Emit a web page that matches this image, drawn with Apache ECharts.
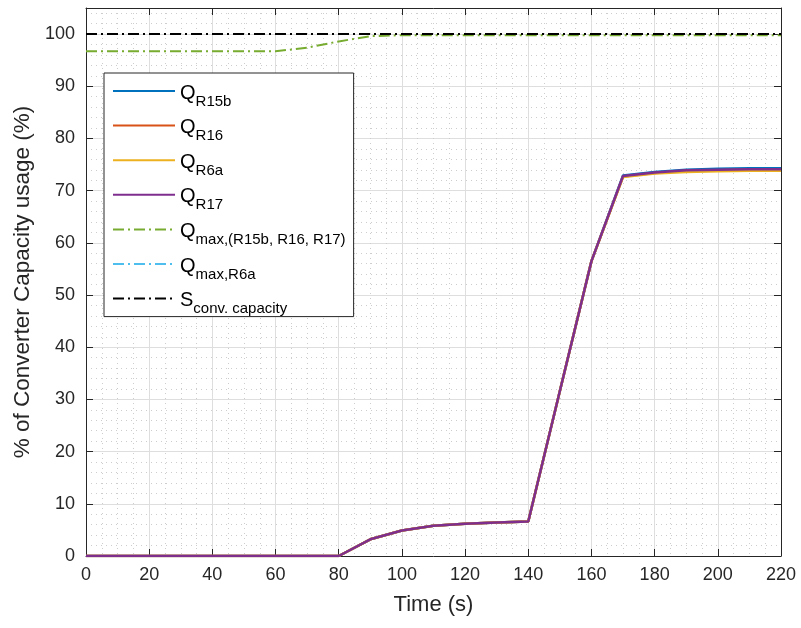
<!DOCTYPE html>
<html>
<head>
<meta charset="utf-8">
<script src="https://cdn.jsdelivr.net/npm/echarts@6/dist/echarts.min.js"></script>
<style>
  html, body { margin: 0; padding: 0; background: #fff; }
  #chart { width: 801px; height: 628px; }
</style>
</head>
<body>
<div id="chart"></div>
<script>
// Time axis samples (s)
const time = [0, 10, 20, 30, 40, 50, 60, 70, 80, 90, 100, 110, 120, 130, 140, 150, 160, 170, 180, 190, 200, 210, 220];

// Reactive power usage per controller (% of converter capacity)
const qR15b = [0, 0, 0, 0, 0, 0, 0, 0, 0, 3.2, 4.9, 5.8, 6.2, 6.4, 6.6, 31.6, 56.5, 72.9, 73.6, 74.0, 74.2, 74.3, 74.3];
const qR16  = [0, 0, 0, 0, 0, 0, 0, 0, 0, 3.2, 4.9, 5.8, 6.2, 6.4, 6.6, 31.6, 56.5, 72.7, 73.4, 73.8, 73.9, 74.0, 74.0];
const qR6a  = [0, 0, 0, 0, 0, 0, 0, 0, 0, 3.2, 4.9, 5.8, 6.2, 6.4, 6.6, 31.6, 56.5, 72.6, 73.3, 73.6, 73.7, 73.8, 73.8];
const qR17  = [0, 0, 0, 0, 0, 0, 0, 0, 0, 3.2, 4.9, 5.8, 6.2, 6.4, 6.6, 31.6, 56.5, 72.8, 73.5, 73.9, 74.0, 74.1, 74.1];

// Available reactive power limits and converter rating
const qMaxGroup = [96.7, 96.7, 96.7, 96.7, 96.7, 96.7, 96.7, 97.4, 98.6, 99.6, 99.8, 99.8, 99.8, 99.8, 99.8, 99.8, 99.8, 99.8, 99.8, 99.8, 99.8, 99.8, 99.8];
const qMaxR6a   = [100, 100, 100, 100, 100, 100, 100, 100, 100, 100, 100, 100, 100, 100, 100, 100, 100, 100, 100, 100, 100, 100, 100];
const sConv     = [100, 100, 100, 100, 100, 100, 100, 100, 100, 100, 100, 100, 100, 100, 100, 100, 100, 100, 100, 100, 100, 100, 100];

// Legend labels: main symbol and subscript
const legendMain = ['Q', 'Q', 'Q', 'Q', 'Q', 'Q', 'S'];
const legendSub  = ['R15b', 'R16', 'R6a', 'R17', 'max,(R15b, R16, R17)', 'max,R6a', 'conv. capacity'];

const xTicks = { min: 0, max: 220, step: 20 };
const yTicks = { min: 0, max: 105, step: 10 };

const seriesValues = [qR15b, qR16, qR6a, qR17, qMaxGroup, qMaxR6a, sConv];
const colors = ['#0072BD', '#D95319', '#EDB120', '#7E2F8E', '#77AC30', '#4DBEEE', '#000000'];
const dashDot = [11, 4, 2, 4];
const styles = ['solid', 'solid', 'solid', 'solid', dashDot, dashDot, dashDot];
const widths = [2.5, 2.5, 2.5, 2.5, 2, 2, 2];

const names = legendMain.map((m, i) => m + '_' + legendSub[i]);
const labelOf = {};
names.forEach((n, i) => { labelOf[n] = '{q|' + legendMain[i] + '}{s|' + legendSub[i] + '}'; });

const axisColor = '#262626';
const minorColor = '#cdcdcd';
const font = '"Liberation Sans", Arial, Helvetica, sans-serif';

const series = seriesValues.map((vals, i) => ({
  name: names[i],
  type: 'line',
  symbol: 'none',
  z: 2 + i,
  data: time.map((t, k) => [t, vals[k]]),
  lineStyle: { color: colors[i], width: widths[i], type: styles[i] },
  itemStyle: { color: colors[i] }
}));

const chart = echarts.init(document.getElementById('chart'), null, { renderer: 'canvas' });
chart.setOption({
  animation: false,
  backgroundColor: '#ffffff',
  grid: { left: 86, right: 20, top: 8, bottom: 72, containLabel: false },
  legend: {
    orient: 'vertical',
    left: 104,
    top: 73,
    data: names,
    itemWidth: 62,
    itemHeight: 14,
    itemGap: 5.6,
    padding: [7, 8, 0, 8],
    backgroundColor: '#ffffff',
    borderColor: axisColor,
    borderWidth: 1,
    borderRadius: 0,
    itemStyle: { opacity: 0 },
    formatter: n => labelOf[n],
    textStyle: {
      fontFamily: font,
      color: '#000',
      rich: {
        q: { fontSize: 20, fontFamily: font, color: '#000', lineHeight: 22, padding: [3, 0, 0, 0], verticalAlign: 'top' },
        s: { fontSize: 15, fontFamily: font, color: '#000', lineHeight: 16, padding: [14, 0, 0, 0], verticalAlign: 'top' }
      }
    }
  },
  xAxis: [
    {
      type: 'value',
      min: xTicks.min, max: xTicks.max, interval: xTicks.step,
      name: 'Time (s)',
      nameLocation: 'middle',
      nameGap: 38,
      nameTextStyle: { fontFamily: font, fontSize: 22, color: axisColor },
      axisLine: { show: true, onZero: false, lineStyle: { color: axisColor, width: 1 } },
      axisTick: { show: true, inside: true, length: 7, lineStyle: { color: axisColor } },
      axisLabel: { fontFamily: font, fontSize: 18, color: axisColor, margin: 10 },
      splitLine: { show: true, lineStyle: { color: '#dedede', width: 1 } },
      minorTick: { show: false, splitNumber: 4 },
      minorSplitLine: { show: true, lineStyle: { color: minorColor, width: 1, type: [1, 4] } }
    },
    {
      type: 'value',
      position: 'top',
      min: xTicks.min, max: xTicks.max, interval: xTicks.step,
      axisLine: { show: true, onZero: false, lineStyle: { color: axisColor, width: 1 } },
      axisTick: { show: true, inside: true, length: 7, lineStyle: { color: axisColor } },
      axisLabel: { show: false },
      splitLine: { show: false }
    }
  ],
  yAxis: [
    {
      type: 'value',
      min: yTicks.min, max: yTicks.max, interval: yTicks.step,
      name: '% of Converter Capacity usage (%)',
      nameLocation: 'middle',
      nameGap: 52,
      nameTextStyle: { fontFamily: font, fontSize: 22.5, color: axisColor },
      axisLine: { show: true, onZero: false, lineStyle: { color: axisColor, width: 1 } },
      axisTick: { show: true, inside: true, length: 7, lineStyle: { color: axisColor } },
      axisLabel: {
        fontFamily: font, fontSize: 18, color: axisColor, margin: 11,
        formatter: v => (v % yTicks.step === 0 ? String(v) : '')
      },
      splitLine: { show: true, lineStyle: { color: '#dedede', width: 1 } }
    },
    {
      type: 'value',
      position: 'right',
      min: yTicks.min, max: yTicks.max, interval: yTicks.step,
      axisLine: { show: true, onZero: false, lineStyle: { color: axisColor, width: 1 } },
      axisTick: { show: true, inside: true, length: 7, lineStyle: { color: axisColor },
                  interval: (idx, v) => v % yTicks.step === 0 },
      axisLabel: { show: false },
      splitLine: { show: false }
    },
    {
      // dotted minor grid every 2 %, skipping the major lines
      type: 'value',
      position: 'left',
      min: yTicks.min, max: yTicks.max, interval: 2,
      axisLine: { show: false },
      axisTick: { show: false },
      axisLabel: { show: false },
      splitLine: { show: true, lineStyle: { color: ['transparent', minorColor, minorColor, minorColor, minorColor], width: 1, type: [1, 4] } }
    }
  ],
  series: series
});
</script>
</body>
</html>
